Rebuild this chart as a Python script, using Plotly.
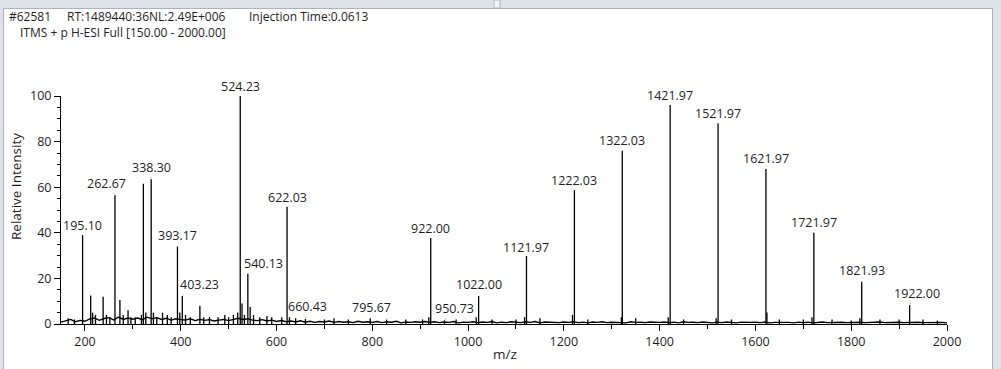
import plotly.graph_objects as go

# ---- data ----
label_mz = [195.10, 262.67, 338.30, 393.17, 403.23, 524.23, 540.13, 622.03, 660.43,
            795.67, 922.00, 950.73, 1022.00, 1121.97, 1222.03, 1322.03, 1421.97,
            1521.97, 1621.97, 1721.97, 1821.93, 1922.00]
label_int = [39.0, 56.5, 63.5, 34.0, 12.3, 100.0, 22.0, 51.4, 2.2,
             2.5, 37.7, 1.6, 12.3, 29.8, 58.7, 76.0, 96.0,
             88.0, 68.0, 40.0, 18.5, 8.3]
# label offsets (pixels) of the label centre relative to the peak top
label_dx = [0, -8, 0, 0, 17, 0, 16, 0, 2, 1, 0, 10, 0, 0, 0, 0, 0, 0, 0, 0, 0, 7]
label_dy = [-10, -12, -12, -11, -11, -10, -10, -9, -12, -11, -10, -12, -11, -9, -10, -10, -10, -10, -10, -10, -11, -12]

minor_mz = [165, 178, 212, 216, 222, 238, 245, 252, 273, 280, 290, 296, 305, 318, 322,
            327, 343, 350, 362, 372, 380, 398, 410, 420, 440, 448, 460, 478, 492, 500,
            510, 519, 528, 533, 545, 552, 565, 580, 590, 611, 627, 640, 700, 720, 750,
            830, 870, 905, 918, 975, 1017, 1050, 1100, 1118, 1150, 1218, 1250, 1320,
            1350, 1418, 1450, 1518, 1550, 1624, 1650, 1700, 1718, 1760, 1800, 1818,
            1860, 1900, 1950, 1980]
minor_int = [2.5, 2.0, 12.5, 5.0, 4.0, 12.0, 4.0, 3.0, 10.5, 4.0, 6.0, 3.0, 3.0, 4.0, 61.5,
             5.0, 5.0, 3.0, 5.0, 4.0, 3.0, 5.0, 4.0, 3.0, 8.0, 3.0, 3.0, 3.0, 4.0, 3.0,
             4.0, 5.0, 9.0, 4.0, 7.5, 4.0, 3.0, 3.5, 3.0, 3.0, 3.0, 2.5, 2.0, 2.5, 2.0,
             2.0, 2.0, 2.0, 3.0, 2.0, 3.0, 2.0, 2.0, 3.0, 2.5, 4.0, 2.0, 3.0,
             2.5, 3.0, 2.0, 2.5, 2.0, 5.0, 2.0, 2.0, 3.0, 2.0, 1.5, 2.5,
             2.0, 2.0, 2.0, 1.5]

noise_start, noise_step = 150, 10
noise_int = [0.8, 1.3, 2.0, 1.0, 1.6,
             1.2, 2.2, 2.6, 1.6, 2.4, 2.8, 1.8, 3.0, 2.0, 2.6,
             2.1, 2.6, 1.9, 3.0, 2.3, 2.8, 2.0, 2.5, 1.7, 2.3,
             2.0, 1.7, 2.3, 1.5, 2.1, 1.6, 1.9, 1.3, 1.7, 2.0,
             1.5, 2.1, 2.5, 2.0, 2.3, 1.7, 1.5, 1.9, 1.3, 1.7,
             1.1, 1.5, 1.0, 1.3, 0.9, 1.4, 0.8, 1.2, 0.7, 1.1,
             0.9, 1.3, 0.7, 1.1, 0.8, 1.0, 0.6, 1.2, 0.8, 1.0,
             0.7, 1.1, 0.6, 1.0, 0.8, 1.2, 0.5, 0.9, 0.7, 1.0,
             0.8, 1.1, 0.7, 1.0, 0.6, 0.9, 0.7, 1.1, 0.5, 0.8,
             0.7, 1.0, 0.6, 0.9, 0.7, 1.1, 0.5, 0.8, 0.6, 1.0,
             0.8, 0.6, 1.0, 0.7, 1.1, 0.5, 0.9, 0.7, 0.8, 0.6,
             0.9, 0.7, 1.0, 0.6, 0.8, 0.5, 0.9, 0.7, 1.0, 0.6,
             0.8, 0.7, 0.9, 0.5, 1.0, 0.7, 0.8, 0.6, 0.9, 0.7,
             0.7, 0.9, 0.6, 0.8, 0.5, 1.0, 0.7, 0.8, 0.6, 0.9,
             0.7, 0.5, 0.8, 0.6, 0.9, 0.7, 0.5, 0.8, 0.6, 0.7,
             0.8, 0.6, 0.9, 0.5, 0.7, 0.8, 0.6, 0.7, 0.5, 0.8,
             0.6, 0.8, 0.5, 0.7, 0.9, 0.6, 0.7, 0.5, 0.8, 0.6,
             0.7, 0.5, 0.8, 0.6, 0.7, 0.5, 0.9, 0.6, 0.7, 0.5,
             0.8, 0.6, 0.7, 0.5, 0.8, 0.6, 0.7, 0.5, 0.6, 0.7,
             0.5]
noise_mz = [noise_start + i * noise_step for i in range(len(noise_int))]

x_ticks = [200, 400, 600, 800, 1000, 1200, 1400, 1600, 1800, 2000]
y_ticks = [0, 20, 40, 60, 80, 100]

header_parts = ["#62581", "RT:1489440:36NL:2.49E+006", "Injection Time:0.0613"]
header_line2 = "ITMS + p H-ESI Full [150.00 - 2000.00]"

# ---- layout geometry ----
W, H = 1001, 369
L, R, T, B = 61, 54, 96, 45
PW, PH = W - L - R, H - T - B


def px(x):
    return (x - L) / PW


def py(y):
    return (H - B - y) / PH


FONT = "Open Sans"
TXT = "#1e1e1e"

# stick spectrum
sx, sy = [], []
for m, h in list(zip(minor_mz, minor_int)) + list(zip(label_mz, label_int)):
    sx += [m, m, None]
    sy += [0, h, None]

fig = go.Figure()
fig.add_trace(go.Scatter(x=noise_mz, y=noise_int, mode="lines",
                         line=dict(color="black", width=1.4),
                         hoverinfo="skip", showlegend=False))
fig.add_trace(go.Scatter(x=sx, y=sy, mode="lines", line=dict(color="black", width=1.3),
                         hoverinfo="skip", showlegend=False))

annotations = []
for m, h, dx, dy in zip(label_mz, label_int, label_dx, label_dy):
    annotations.append(dict(x=m, y=h, xref="x", yref="y", text=f"{m:.2f}",
                            showarrow=True, arrowhead=0, arrowwidth=0.8,
                            arrowcolor="#8a8a70", ax=dx, ay=dy, standoff=1,
                            font=dict(family=FONT, size=12.5, color=TXT)))

hx = [7, 65, 247]
for t, x0 in zip(header_parts, hx):
    annotations.append(dict(x=px(x0), y=py(16.5), xref="paper", yref="paper", text=t,
                            showarrow=False, xanchor="left", yanchor="middle",
                            font=dict(family=FONT, size=12, color=TXT)))
annotations.append(dict(x=px(18), y=py(32.5), xref="paper", yref="paper", text=header_line2,
                        showarrow=False, xanchor="left", yanchor="middle",
                        font=dict(family=FONT, size=12, color=TXT)))
annotations.append(dict(x=px(16), y=py(187), xref="paper", yref="paper",
                        text="Relative Intensity", textangle=-90, showarrow=False,
                        xanchor="center", yanchor="middle",
                        font=dict(family=FONT, size=13.5, color=TXT)))
annotations.append(dict(x=px(505), y=py(354), xref="paper", yref="paper", text="m/z",
                        showarrow=False, xanchor="center", yanchor="middle",
                        font=dict(family=FONT, size=13.5, color=TXT)))

chrome = "#dde2e8"
edge = "#aab3be"
shapes = [
    dict(type="rect", xref="paper", yref="paper", x0=px(0), x1=px(W), y0=py(0), y1=py(8),
         fillcolor=chrome, line=dict(width=0), layer="below"),
    dict(type="line", xref="paper", yref="paper", x0=px(0), x1=px(W), y0=py(8.5), y1=py(8.5),
         line=dict(color=edge, width=1)),
    dict(type="rect", xref="paper", yref="paper", x0=px(494), x1=px(500), y0=py(0), y1=py(8),
         fillcolor="#f2f4f6", line=dict(color=edge, width=1)),
    dict(type="rect", xref="paper", yref="paper", x0=px(0), x1=px(3), y0=py(0), y1=py(H),
         fillcolor=chrome, line=dict(width=0)),
    dict(type="line", xref="paper", yref="paper", x0=px(3.5), x1=px(3.5), y0=py(8), y1=py(H),
         line=dict(color=edge, width=1)),
    dict(type="rect", xref="paper", yref="paper", x0=px(993), x1=px(W), y0=py(0), y1=py(H),
         fillcolor=chrome, line=dict(width=0)),
    dict(type="line", xref="paper", yref="paper", x0=px(992.5), x1=px(992.5), y0=py(8), y1=py(H),
         line=dict(color=edge, width=1)),
]

fig.update_layout(
    width=W, height=H, autosize=False,
    margin=dict(l=L, r=R, t=T, b=B, pad=0),
    paper_bgcolor="white", plot_bgcolor="white",
    showlegend=False,
    annotations=annotations, shapes=shapes,
    font=dict(family=FONT, size=12.5, color=TXT),
)
fig.update_xaxes(range=[150, 2000], tickvals=x_ticks, ticks="outside", ticklen=6,
                 tickcolor="black", showline=True, linecolor="black", linewidth=1,
                 showgrid=False, zeroline=False,
                 tickfont=dict(family=FONT, size=12.5, color=TXT),
                 minor=dict(dtick=100, tick0=0, ticks="outside", ticklen=4, tickcolor="black"))
fig.update_yaxes(range=[0, 100], tickvals=y_ticks, ticks="outside", ticklen=6,
                 tickcolor="black", showline=True, linecolor="black", linewidth=1,
                 showgrid=False, zeroline=False,
                 tickfont=dict(family=FONT, size=12.5, color=TXT),
                 minor=dict(dtick=5, tick0=0, ticks="outside", ticklen=3, tickcolor="black"))

fig.write_html("out.html")
